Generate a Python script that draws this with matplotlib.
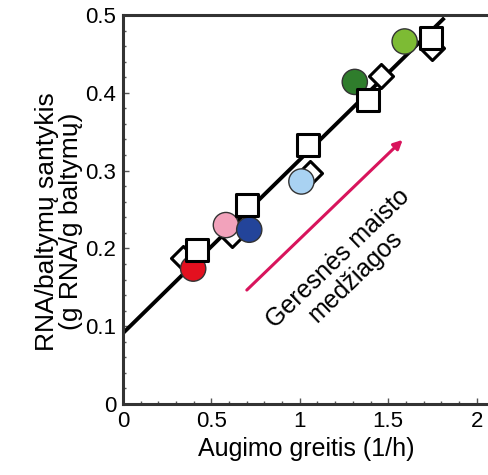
import numpy as np
import matplotlib.pyplot as plt

plt.rcParams['font.family'] = ['Liberation Sans', 'DejaVu Sans']

# squares and diamonds (open markers)
sq_x = [0.416, 0.699, 1.047, 1.386, 1.744]
sq_y = [0.198, 0.256, 0.333, 0.391, 0.470]
dm_x = [0.34, 0.614, 1.056, 1.46, 1.75]
dm_y = [0.188, 0.217, 0.297, 0.421, 0.458]

# coloured circles
ci_x = [0.397, 0.582, 0.714, 1.009, 1.311, 1.593]
ci_y = [0.174, 0.230, 0.224, 0.286, 0.414, 0.466]
ci_colors = ["#e3101f", "#f2a2bb", "#23449a", "#a9d2f2", "#2f7d2c", "#7dbb34"]

# fitted line
fit_x = [0.0, 1.81]
fit_intercept = 0.091
fit_slope = 0.223

fig = plt.figure(figsize=(4.89, 4.75), dpi=100)
ax = fig.add_axes([0.2515, 0.1495, 0.7485, 0.8189])

xs = np.array(fit_x)
ax.plot(xs, fit_intercept + fit_slope * xs, color="black", lw=2.8, zorder=2)

ax.scatter(dm_x, dm_y, marker="D", s=150, facecolor="white",
           edgecolor="black", linewidth=2.2, zorder=3)
ax.scatter(ci_x, ci_y, marker="o", s=330, c=ci_colors,
           edgecolor="#333333", linewidth=1.0, zorder=4)
ax.scatter(sq_x, sq_y, marker="s", s=250, facecolor="white",
           edgecolor="black", linewidth=2.2, zorder=5)

ax.annotate("", xy=(1.593, 0.342), xytext=(0.689, 0.144),
            arrowprops=dict(arrowstyle="-|>", color="#d8145c", lw=2.2,
                            mutation_scale=13))
ax.text(1.265, 0.175, "Geresnės maisto\nmedžiagos", rotation=44,
        ha="center", va="center", fontsize=18, rotation_mode="anchor",
        linespacing=1.05)

ax.set_xlim(0, 2.07)
ax.set_ylim(0, 0.5)
ax.set_xticks([0, 0.5, 1, 1.5, 2])
ax.set_xticklabels(["0", "0.5", "1", "1.5", "2"])
ax.set_yticks([0, 0.1, 0.2, 0.3, 0.4, 0.5])
ax.set_yticklabels(["0", "0.1", "0.2", "0.3", "0.4", "0.5"])
ax.minorticks_on()
ax.tick_params(which="both", direction="in", labelsize=16, width=1, color="#555555")
ax.tick_params(which="major", length=4, pad=5)
ax.tick_params(which="minor", length=2)
ax.spines["right"].set_visible(False)
for s in ["left", "bottom", "top"]:
    ax.spines[s].set_linewidth(2.2)
    ax.spines[s].set_color("#333333")

ax.set_xlabel("Augimo greitis (1/h)", fontsize=18, labelpad=4)
ax.set_ylabel("RNA/baltymų santykis\n(g RNA/g baltymų)", fontsize=19,
              linespacing=1.0)
ax.yaxis.set_label_coords(-0.11, 0.47)

fig.savefig("out.png", dpi=100)
